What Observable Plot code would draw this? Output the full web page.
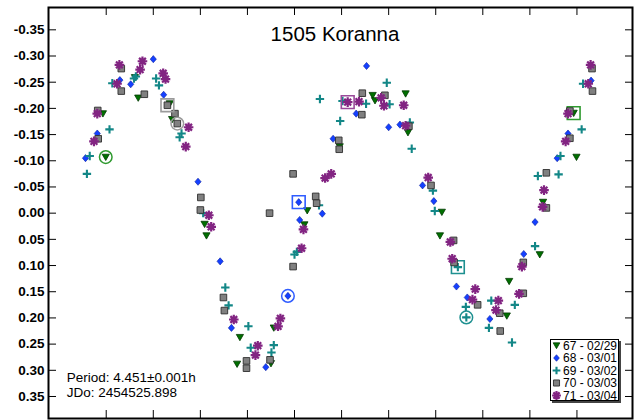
<!DOCTYPE html>
<html>
<head>
<meta charset="utf-8">
<script src="https://cdn.jsdelivr.net/npm/d3@7"></script>
<script src="https://cdn.jsdelivr.net/npm/@observablehq/plot@0.6"></script>
<style>
  html, body { margin: 0; padding: 0; background: #fff; }
  #chart { width: 637px; height: 420px; }
</style>
</head>
<body>
<div id="chart"></div>
<script>
// Lightcurve of 1505 Koranna: [phase, relative magnitude] per session
const s67 = [[0.093,-0.190],[0.099,-0.107],[0.168,-0.220],[0.161,-0.259],[0.235,-0.209],[0.240,-0.179],[0.309,0.021],[0.313,0.043],[0.384,0.237],[0.378,0.288],[0.450,0.287],[0.456,0.219],[0.527,-0.005],[0.521,0.022],[0.596,-0.127],[0.666,-0.225],[0.671,-0.215],[0.736,-0.228],[0.741,-0.154],[0.813,-0.002],[0.809,0.043],[0.951,0.196],[0.956,0.130],[1.021,0.079],[1.028,-0.021],[1.093,-0.191],[1.099,-0.107]];
const s68 = [[0.056,-0.105],[0.081,-0.152],[0.129,-0.254],[0.152,-0.246],[0.200,-0.294],[0.222,-0.226],[0.295,-0.060],[0.342,0.092],[0.366,0.219],[0.439,0.294],[0.486,0.158],[0.509,-0.021],[0.511,0.013],[0.559,0.001],[0.582,-0.142],[0.631,-0.190],[0.653,-0.281],[0.700,-0.164],[0.724,-0.169],[0.772,-0.053],[0.796,-0.023],[0.844,0.140],[0.867,0.161],[0.915,0.202],[0.987,0.078],[1.011,0.017],[1.058,-0.105],[1.081,-0.152],[1.130,-0.253]];
const s69 = [[0.059,-0.075],[0.065,-0.109],[0.107,-0.160],[0.113,-0.248],[0.159,-0.257],[0.163,-0.261],[0.206,-0.257],[0.212,-0.244],[0.256,-0.145],[0.260,-0.152],[0.306,0.000],[0.353,0.142],[0.360,0.176],[0.402,0.216],[0.407,0.257],[0.456,0.252],[0.451,0.266],[0.500,0.079],[0.505,0.074],[0.552,-0.015],[0.554,-0.218],[0.597,-0.176],[0.602,-0.214],[0.652,-0.209],[0.696,-0.249],[0.702,-0.208],[0.745,-0.173],[0.749,-0.123],[0.794,-0.043],[0.798,-0.004],[0.847,0.103],[0.864,0.179],[0.865,0.199],[0.913,0.219],[0.918,0.167],[0.962,0.247],[0.968,0.175],[1.011,0.063],[1.017,-0.071],[1.061,-0.074],[1.065,-0.109],[1.110,-0.160],[1.113,-0.247]];
const s70 = [[0.082,-0.196],[0.083,-0.142],[0.132,-0.276],[0.132,-0.233],[0.181,-0.227],[0.230,-0.206],[0.246,-0.190],[0.251,-0.171],[0.301,-0.030],[0.300,-0.006],[0.349,0.161],[0.351,0.186],[0.398,0.282],[0.398,0.296],[0.448,0.280],[0.447,0.000],[0.497,-0.075],[0.497,0.102],[0.545,-0.032],[0.547,-0.019],[0.594,-0.139],[0.595,-0.122],[0.643,-0.188],[0.644,-0.229],[0.692,-0.225],[0.743,-0.166],[0.790,-0.053],[0.838,0.052],[0.839,0.094],[0.889,0.175],[0.936,0.191],[0.937,0.225],[0.986,0.153],[0.986,0.094],[1.035,-0.077],[1.035,-0.010],[1.085,-0.195],[1.085,-0.143],[1.132,-0.276],[1.133,-0.233]];
const s71 = [[0.074,-0.137],[0.081,-0.190],[0.123,-0.247],[0.128,-0.283],[0.172,-0.274],[0.177,-0.290],[0.221,-0.267],[0.226,-0.256],[0.275,-0.164],[0.269,-0.127],[0.318,0.004],[0.323,0.026],[0.371,0.203],[0.422,0.253],[0.417,0.271],[0.470,0.201],[0.465,0.216],[0.515,0.067],[0.519,0.031],[0.565,-0.067],[0.578,-0.075],[0.613,-0.212],[0.637,-0.213],[0.684,-0.220],[0.690,-0.205],[0.732,-0.206],[0.736,-0.167],[0.784,-0.068],[0.831,0.055],[0.835,0.087],[0.884,0.145],[0.878,0.165],[0.933,0.167],[0.928,0.185],[0.977,0.154],[0.983,0.102],[1.030,-0.044],[1.027,-0.012],[1.076,-0.137],[1.081,-0.190],[1.124,-0.247],[1.129,-0.283]];

const sessionLabels = ["67 - 02/29", "68 - 03/01", "69 - 03/02", "70 - 03/03", "71 - 03/04"];
// index of the point boxed (square) and ringed (circle) in each session, -1 if none
const boxedIndex = [25, 11, 30, 5, 21];
const ringedIndex = [1, 10, 32, 7, -1];

const yTicks = [-0.35, -0.30, -0.25, -0.20, -0.15, -0.10, -0.05, 0.00, 0.05, 0.10, 0.15, 0.20, 0.25, 0.30, 0.35];
const xTicks = [0.1, 0.2, 0.3, 0.4, 0.5, 0.6, 0.7, 0.8, 0.9, 1.0, 1.1];

const titleText = "1505 Koranna";
const notes = ["Period: 4.451\u00b10.001h", "JDo: 2454525.898"];

// --- symbols (size = PI * r^2, as Plot passes it) ---
const rad = size => Math.sqrt(size / Math.PI);
const triDown = {draw(c, size) { const r = rad(size); c.moveTo(-r, -0.8 * r); c.lineTo(r, -0.8 * r); c.lineTo(0, 0.95 * r); c.closePath(); }};
const diamond = {draw(c, size) { const r = rad(size); c.moveTo(0, -1.15 * r); c.lineTo(r, 0); c.lineTo(0, 1.15 * r); c.lineTo(-r, 0); c.closePath(); }};
const plus = {draw(c, size) { const r = rad(size); c.moveTo(-r, 0); c.lineTo(r, 0); c.moveTo(0, -r); c.lineTo(0, r); }};
const box = {draw(c, size) { const r = rad(size); c.rect(-r, -r, 2 * r, 2 * r); }};
const asterisk = {draw(c, size) {
  const r = rad(size);
  for (let k = 0; k < 4; ++k) {
    const a = k * Math.PI / 4, dx = r * Math.cos(a), dy = r * Math.sin(a);
    c.moveTo(-dx, -dy); c.lineTo(dx, dy);
  }
}};

const styles = [
  {symbol: triDown, r: 3.6, fill: "#007000", stroke: "#003a00", strokeWidth: 0.8, ring: "#2f9a2f"},
  {symbol: diamond, r: 3.1, fill: "#1440ff", stroke: "#0a1fa0", strokeWidth: 0.6, ring: "#2f5cff"},
  {symbol: plus, r: 4.2, fill: "none", stroke: "#138787", strokeWidth: 2.1, ring: "#1e9090"},
  {symbol: box, r: 3.3, fill: "#808080", stroke: "#2e2e2e", strokeWidth: 0.9, ring: "#9a9a9a"},
  {symbol: asterisk, r: 4.8, fill: "none", stroke: "#822482", strokeWidth: 2.2, ring: "#9a4a9a"}
];

const series = [s67, s68, s69, s70, s71];
const rows = series.map((pts, i) => pts.map(([phase, mag]) => ({phase, mag, s: i})));
const boxedRows = rows.map((r, i) => boxedIndex[i] >= 0 ? [r[boxedIndex[i]]] : []);
const ringedRows = rows.map((r, i) => ringedIndex[i] >= 0 ? [r[ringedIndex[i]]] : []);

const W = 637, H = 420, mL = 48, mR = 5, mT = 7, mB = 2;
const innerW = W - mL - mR, innerH = H - mT - mB;

const marks = [];
series.forEach((_, i) => {
  const st = styles[i];
  marks.push(Plot.dot(rows[i], {x: "phase", y: "mag", symbol: st.symbol, r: st.r, fill: st.fill, stroke: st.stroke, strokeWidth: st.strokeWidth}));
  marks.push(Plot.dot(boxedRows[i], {x: "phase", y: "mag", symbol: box, r: 6.4, fill: "none", stroke: st.ring, strokeWidth: 1.6}));
  marks.push(Plot.dot(ringedRows[i], {x: "phase", y: "mag", r: 6.3, fill: "none", stroke: st.ring, strokeWidth: 1.5}));
});

const fmt = d => d.toFixed(2);

const chart = Plot.plot({
  width: W, height: H,
  marginLeft: mL, marginRight: mR, marginTop: mT, marginBottom: mB,
  style: {fontFamily: "'Liberation Sans', Arial, sans-serif", background: "white", color: "black"},
  x: {domain: [-0.0226, 1.218], axis: null},
  y: {domain: [-0.3926, 0.392], reverse: true, axis: null},
  marks: [
    ...marks,
    // inward ticks on all four sides
    Plot.tickY(yTicks, {y: d => d, insetRight: innerW - 8, stroke: "black", strokeWidth: 1}),
    Plot.tickY(yTicks, {y: d => d, insetLeft: innerW - 7, stroke: "black", strokeWidth: 1}),
    Plot.tickX(xTicks, {x: d => d, insetBottom: innerH - 8, stroke: "black", strokeWidth: 1}),
    Plot.tickX(xTicks, {x: d => d, insetTop: innerH - 8, stroke: "black", strokeWidth: 1}),
    Plot.text(yTicks, {y: d => d, frameAnchor: "left", dx: -4, textAnchor: "end", text: fmt, fontWeight: "bold", fontSize: 13.5, fill: "black"}),
    Plot.frame({stroke: "black", strokeWidth: 2})
  ]
});

document.getElementById("chart").appendChild(chart);

// title, period notes and session legend on the same SVG
const svg = d3.select(chart);
const ff = "'Liberation Sans', Arial, sans-serif";
svg.append("text").attr("x", 335).attr("y", 41.3).attr("text-anchor", "middle")
  .attr("font-family", ff).attr("font-size", 20.5).attr("fill", "black").text(titleText);
notes.forEach((t, i) => {
  svg.append("text").attr("x", 66.7).attr("y", 381.7 + i * 15.6).attr("text-anchor", "start")
    .attr("font-family", ff).attr("font-size", 13.5).attr("fill", "black").text(t);
});

const lg = svg.append("g").attr("transform", "translate(550,339)");
lg.append("rect").attr("x", 2).attr("y", 2).attr("width", 69).attr("height", 62).attr("fill", "#444");
lg.append("rect").attr("x", 0.5).attr("y", 0.5).attr("width", 68).attr("height", 61).attr("fill", "white").attr("stroke", "black").attr("stroke-width", 1);
sessionLabels.forEach((lab, i) => {
  const st = styles[i];
  const cy = 6.5 + i * 12.5;
  const sz = Math.PI * st.r * st.r * 0.85;
  lg.append("path").attr("transform", `translate(6.5,${cy})`)
    .attr("d", d3.symbol(st.symbol, sz)())
    .attr("fill", st.fill).attr("stroke", st.stroke).attr("stroke-width", st.strokeWidth);
  lg.append("text").attr("x", 13).attr("y", cy + 4.3).attr("text-anchor", "start")
    .attr("font-family", ff).attr("font-size", 12).attr("fill", "black").text(lab);
});
</script>
</body>
</html>
